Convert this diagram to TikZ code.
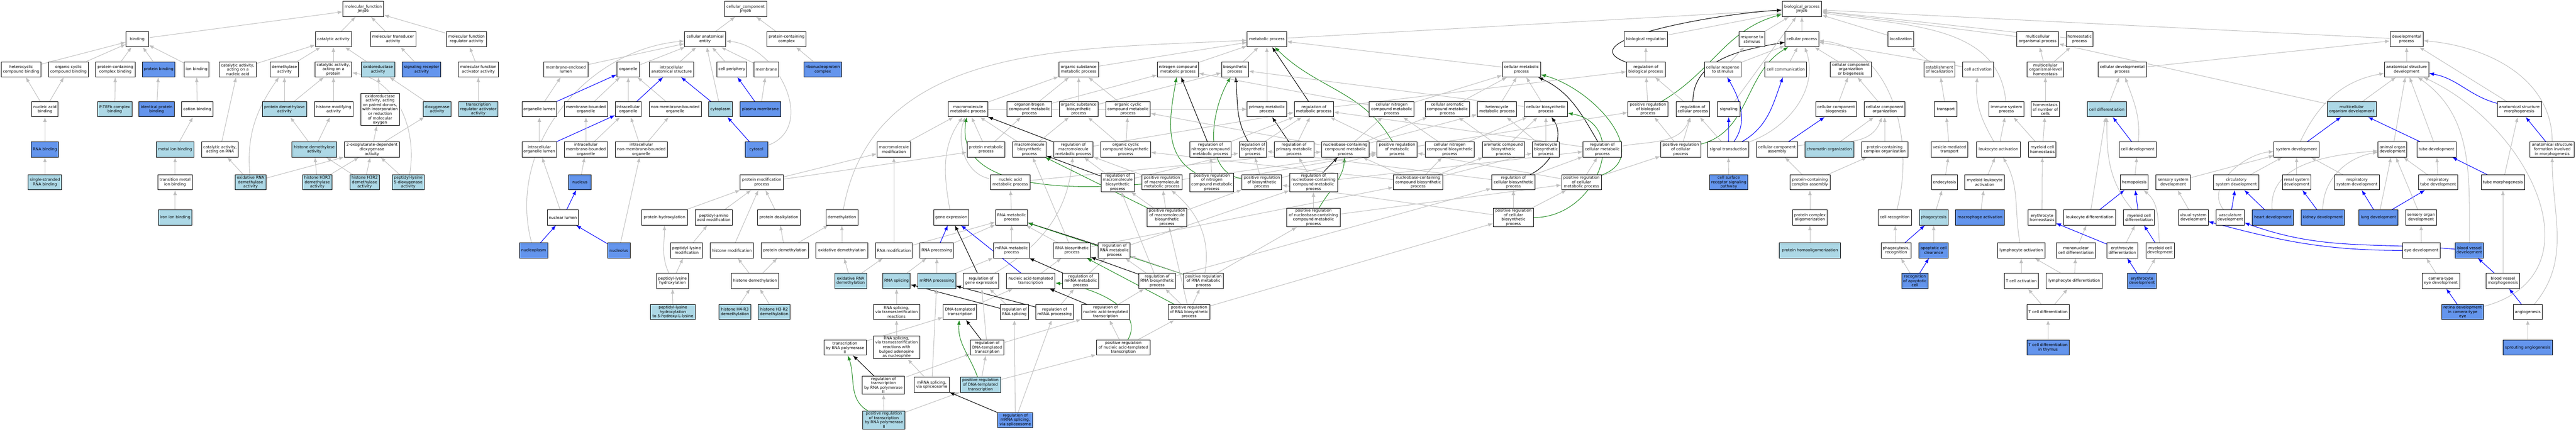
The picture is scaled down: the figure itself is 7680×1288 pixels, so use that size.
\documentclass[tikz,border=0pt]{standalone}
\usepackage{fontspec}
\setmainfont{DejaVu Sans}
\usetikzlibrary{backgrounds}
\definecolor{goL}{HTML}{ADD8E6}
\definecolor{goC}{HTML}{6495ED}
\definecolor{goGray}{HTML}{C0C0C0}
\definecolor{goGreen}{HTML}{228B22}
\tikzset{
  term/.style={draw, line width=0.4pt, fill=white, align=center, inner sep=0.25mm,
    minimum height=4.5mm, font=\fontsize{3.3}{3.75}\selectfont},
  termL/.style={term, fill=goL},
  termC/.style={term, fill=goC},
  isa/.style={-latex, draw=goGray, line width=0.45pt},
  po/.style={-latex, draw=blue, line width=0.45pt},
  pr/.style={-latex, draw=goGreen, line width=0.45pt},
  rg/.style={-latex, draw=black, line width=0.45pt}
}
\begin{document}
\begin{tikzpicture}[x=0.1mm, y=-0.1mm]
  \useasboundingbox (0,0) rectangle (7680,1288);
  % molecular function
  \node[term,minimum width=12.2mm] at (1083,27) (mf) {molecular\_function\\Jmjd6};
  \node[term,minimum width=6.7mm] at (409,117) (bind) {binding};
  \node[term,minimum width=10.7mm] at (994,117) (cat) {catalytic activity};
  \node[term,minimum width=13.5mm] at (1172,117) (mtr) {molecular transducer\\activity};
  \node[term,minimum width=12mm] at (1391,117) (mfreg) {molecular function\\regulator activity};
  \node[term,minimum width=11.8mm] at (63,207) (hcb) {heterocyclic\\compound binding};
  \node[term,minimum width=11.8mm] at (204,207) (ocb) {organic cyclic\\compound binding};
  \node[term,minimum width=11.8mm] at (344,207) (pccb) {protein-containing\\complex binding};
  \node[termC,minimum width=9.8mm] at (473,207) (pb) {protein binding};
  \node[term,minimum width=7.3mm] at (586,207) (ionb) {ion binding};
  \node[term,minimum width=11mm] at (709,207) (catna) {catalytic activity,\\acting on a\\nucleic acid};
  \node[term,minimum width=8.5mm] at (848,207) (dem) {demethylase\\activity};
  \node[term,minimum width=11mm] at (994,207) (catpr) {catalytic activity,\\acting on a\\protein};
  \node[termL,minimum width=10mm] at (1127,207) (oxr) {oxidoreductase\\activity};
  \node[termC,minimum width=11.5mm] at (1257,207) (sra) {signaling receptor\\activity};
  \node[term,minimum width=12mm] at (1426,207) (mfact) {molecular function\\activator activity};
  \node[term,minimum width=7.8mm] at (134,326) (nab) {nucleic acid\\binding};
  \node[termL,minimum width=10.3mm] at (342,326) (ptefb) {P-TEFb complex\\binding};
  \node[termC,minimum width=10.5mm] at (467,326) (idpb) {identical protein\\binding};
  \node[term,minimum width=9.3mm] at (588,326) (catb) {cation binding};
  \node[termL,minimum width=13.2mm] at (848,326) (pdem) {protein demethylase\\activity};
  \node[term,minimum width=11.5mm] at (995,326) (hmod) {histone modifying\\activity};
  \node[term,minimum width=11.5mm] at (1133,327) (oxpd) {oxidoreductase\\activity, acting\\on paired donors,\\with incorporation\\or reduction\\of molecular\\oxygen};
  \node[termL,minimum width=8.4mm] at (1303,326) (diox) {dioxygenase\\activity};
  \node[termL,minimum width=11.8mm] at (1426,326) (tra) {transcription\\regulator activator\\activity};
  \node[termC,minimum width=8.1mm] at (134,446) (rnab) {RNA binding};
  \node[termL,minimum width=11.3mm] at (522,446) (mib) {metal ion binding};
  \node[term,minimum width=11mm] at (656,446) (catrna) {catalytic activity,\\acting on RNA};
  \node[termL,minimum width=13.3mm] at (937,446) (hdem) {histone demethylase\\activity};
  \node[term,minimum width=16.5mm] at (1109,446) (ogdd) {2-oxoglutarate-dependent\\dioxygenase\\activity};
  \node[termL,minimum width=10mm] at (134,544) (ssrna) {single-stranded\\RNA binding};
  \node[term,minimum width=10.3mm] at (522,544) (tmib) {transition metal\\ion binding};
  \node[termL,minimum width=9.3mm] at (747,544) (oxrd) {oxidative RNA\\demethylase\\activity};
  \node[termL,minimum width=8.7mm] at (946,544) (h3r3) {histone H3R3\\demethylase\\activity};
  \node[termL,minimum width=8.7mm] at (1087,544) (h3r2) {histone H3R2\\demethylase\\activity};
  \node[termL,minimum width=9.6mm] at (1217,544) (pl5d) {peptidyl-lysine\\5-dioxygenase\\activity};
  \node[termL,minimum width=10mm] at (522,649) (iib) {iron ion binding};
  % cellular component
  \node[term,minimum width=12.5mm] at (2223,27) (cc) {cellular\_component\\Jmjd6};
  \node[term,minimum width=12.2mm] at (2102,117) (cae) {cellular anatomical\\entity};
  \node[term,minimum width=11.7mm] at (2345,117) (pcc) {protein-containing\\complex};
  \node[term,minimum width=13.1mm] at (1687,207) (mel) {membrane-enclosed\\lumen};
  \node[term,minimum width=6.8mm] at (1873,207) (org) {organelle};
  \node[term,minimum width=13.2mm] at (2002,207) (ias) {intracellular\\anatomical structure};
  \node[term,minimum width=8.8mm] at (2182,207) (cper) {cell periphery};
  \node[term,minimum width=7.3mm] at (2285,207) (mem) {membrane};
  \node[termC,minimum width=11.2mm] at (2453,207) (rnp) {ribonucleoprotein\\complex};
  \node[term,minimum width=10.4mm] at (1608,326) (orgl) {organelle lumen};
  \node[term,minimum width=12.9mm] at (1747,326) (mbo) {membrane-bounded\\organelle};
  \node[term,minimum width=7.8mm] at (1873,326) (io) {intracellular\\organelle};
  \node[term,minimum width=15.5mm] at (2013,326) (nmbo) {non-membrane-bounded\\organelle};
  \node[termL,minimum width=7mm] at (2148,326) (cyto) {cytoplasm};
  \node[termC,minimum width=12mm] at (2267,326) (pm) {plasma membrane};
  \node[term,minimum width=10.4mm] at (1608,446) (iol) {intracellular\\organelle lumen};
  \node[term,minimum width=12.9mm] at (1747,446) (imbo) {intracellular\\membrane-bounded\\organelle};
  \node[term,minimum width=15.6mm] at (1912,446) (inmbo) {intracellular\\non-membrane-bounded\\organelle};
  \node[termC,minimum width=6.8mm] at (2255,446) (cytosol) {cytosol};
  \node[termC,minimum width=6.8mm] at (1729,544) (nuc) {nucleus};
  \node[term,minimum width=9.3mm] at (1678,649) (nlum) {nuclear lumen};
  \node[termC,minimum width=8.4mm] at (1591,747) (npl) {nucleoplasm};
  \node[termC,minimum width=6.8mm] at (1845,747) (nucl) {nucleolus};
  % biological process: protein modification
  \node[term,minimum width=12.8mm] at (2271,544) (pmp) {protein modification\\process};
  \node[term,minimum width=13.7mm] at (1981,649) (phyd) {protein hydroxylation};
  \node[term,minimum width=11mm] at (2128,649) (paam) {peptidyl-amino\\acid modification};
  \node[term,minimum width=12.8mm] at (2322,649) (pdealk) {protein dealkylation};
  \node[term,minimum width=9.5mm] at (2510,649) (demeth) {demethylation};
  \node[term,minimum width=9.6mm] at (2047,747) (plmod) {peptidyl-lysine\\modification};
  \node[term,minimum width=12.9mm] at (2182,747) (hismod) {histone modification};
  \node[term,minimum width=14mm] at (2340,747) (pdemeth) {protein demethylation};
  \node[term,minimum width=15.5mm] at (2510,747) (oxdem) {oxidative demethylation};
  \node[term,minimum width=9.5mm] at (2005,838) (plhyd) {peptidyl-lysine\\hydroxylation};
  \node[term,minimum width=14.2mm] at (2251,838) (hdemeth) {histone demethylation};
  \node[termL,minimum width=9.5mm] at (2536,838) (oxrdem) {oxidative RNA\\demethylation};
  \node[termL,minimum width=13.5mm] at (2006,931) (pl5h) {peptidyl-lysine\\hydroxylation\\to 5-hydroxy-L-lysine};
  \node[termL,minimum width=9.5mm] at (2191,931) (h4r3) {histone H4-R3\\demethylation};
  \node[termL,minimum width=9.5mm] at (2308,931) (h3r2d) {histone H3-R2\\demethylation};
  \node[term,minimum width=12.6mm] at (2519,1037) (tpol2) {transcription\\by RNA polymerase\\II};
  % biological process: macromolecules and RNA
  \node[term,minimum width=11.8mm] at (3216,207) (osmp) {organic substance\\metabolic process};
  \node[term,minimum width=11.7mm] at (2886,326) (mmp) {macromolecule\\metabolic process};
  \node[term,minimum width=13.3mm] at (3069,326) (onmp) {organonitrogen\\compound metabolic\\process};
  \node[term,minimum width=11.6mm] at (3216,326) (osbp) {organic substance\\biosynthetic\\process};
  \node[term,minimum width=10mm] at (2665,446) (mmod) {macromolecule\\modification};
  \node[term,minimum width=11.3mm] at (2940,446) (protmp) {protein metabolic\\process};
  \node[term,minimum width=9.9mm] at (3069,446) (mbp) {macromolecule\\biosynthetic\\process};
  \node[term,minimum width=11.7mm] at (3200,446) (rmmp) {regulation of\\macromolecule\\metabolic process};
  \node[term,minimum width=11.7mm] at (3012,544) (namp) {nucleic acid\\metabolic process};
  \node[term,minimum width=10.5mm] at (2836,649) (gexp) {gene expression};
  \node[term,minimum width=9.5mm] at (3016,649) (rnamp) {RNA metabolic\\process};
  \node[term,minimum width=11mm] at (2665,747) (rnamod) {RNA modification};
  \node[term,minimum width=10mm] at (2793,747) (rnaproc) {RNA processing};
  \node[term,minimum width=10.8mm] at (3016,747) (mrnamp) {mRNA metabolic\\process};
  \node[term,minimum width=11mm] at (3196,747) (rnabp) {RNA biosynthetic\\process};
  \node[termL,minimum width=8.2mm] at (2673,838) (rnasp) {RNA splicing};
  \node[termL,minimum width=11.3mm] at (2793,838) (mrnaproc) {mRNA processing};
  \node[term,minimum width=10.6mm] at (2925,838) (rgexp) {regulation of\\gene expression};
  \node[term,minimum width=14.5mm] at (3073,838) (natt) {nucleic acid-templated\\transcription};
  \node[term,minimum width=10.7mm] at (3222,838) (rmrnamp) {regulation of\\mRNA metabolic\\process};
  \node[term,minimum width=13.8mm] at (2673,931) (rnaspt) {RNA splicing,\\via transesterification\\reactions};
  \node[term,minimum width=10mm] at (2862,931) (dtt) {DNA-templated\\transcription};
  \node[term,minimum width=8.4mm] at (3024,931) (rrnasp) {regulation of\\RNA splicing};
  \node[term,minimum width=11.2mm] at (3144,931) (rmrnaproc) {regulation of\\mRNA processing};
  \node[term,minimum width=13.8mm] at (2673,1036) (rnasptb) {RNA splicing,\\via transesterification\\reactions with\\bulged adenosine\\as nucleophile};
  \node[term,minimum width=10mm] at (2943,1037) (rdtt) {regulation of\\DNA-templated\\transcription};
  \node[term,minimum width=12.6mm] at (2634,1149) (rtpol2) {regulation of\\transcription\\by RNA polymerase\\II};
  \node[term,minimum width=10.4mm] at (2778,1148) (mrnasps) {mRNA splicing,\\via spliceosome};
  \node[termL,minimum width=12mm] at (2923,1148) (prdtt) {positive regulation\\of DNA-templated\\transcription};
  \node[termL,minimum width=12.5mm] at (2635,1253) (prtpol2) {positive regulation\\of transcription\\by RNA polymerase\\II};
  \node[termC,minimum width=10.4mm] at (3027,1253) (rmrnasps) {regulation of\\mRNA splicing,\\via spliceosome};
  % biological process: metabolism
  \node[term,minimum width=11.7mm] at (3777,117) (mp) {metabolic process};
  \node[term,minimum width=12.2mm] at (3512,207) (ncmp) {nitrogen compound\\metabolic process};
  \node[term,minimum width=8mm] at (3682,207) (bsp) {biosynthetic\\process};
  \node[term,minimum width=13.3mm] at (3363,326) (occmp) {organic cyclic\\compound metabolic\\process};
  \node[term,minimum width=11.7mm] at (3777,326) (pmproc) {primary metabolic\\process};
  \node[term,minimum width=14.8mm] at (3356,446) (occbp) {organic cyclic\\compound biosynthetic\\process};
  \node[term,minimum width=12.2mm] at (3609,446) (rncmp) {regulation of\\nitrogen compound\\metabolic process};
  \node[term,minimum width=8.2mm] at (3735,446) (rbsp) {regulation of\\biosynthetic\\process};
  \node[term,minimum width=11.8mm] at (3858,446) (rpmp) {regulation of\\primary metabolic\\process};
  \node[term,minimum width=9.9mm] at (3332,544) (rmbp) {regulation of\\macromolecule\\biosynthetic\\process};
  \node[term,minimum width=11.9mm] at (3464,544) (prmmp) {positive regulation\\of macromolecule\\metabolic process};
  \node[term,minimum width=13.1mm] at (3613,544) (prncmp) {positive regulation\\of nitrogen\\compound metabolic\\process};
  \node[term,minimum width=11.8mm] at (3762,544) (prbsp) {positive regulation\\of biosynthetic\\process};
  \node[term,minimum width=14.3mm] at (3916,544) (rnbccmp) {regulation of\\nucleobase-containing\\compound metabolic\\process};
  \node[term,minimum width=14.7mm] at (4228,544) (nbccbp) {nucleobase-containing\\compound biosynthetic\\process};
  \node[term,minimum width=13mm] at (4512,544) (rcbp) {regulation of\\cellular biosynthetic\\process};
  \node[term,minimum width=11.9mm] at (4715,544) (prcmp) {positive regulation\\of cellular\\metabolic process};
  \node[term,minimum width=11.9mm] at (3479,649) (prmbp) {positive regulation\\of macromolecule\\biosynthetic\\process};
  \node[term,minimum width=16mm] at (3916,649) (prnbccmp) {positive regulation\\of nucleobase-containing\\compound metabolic\\process};
  \node[term,minimum width=12mm] at (4512,649) (prcbp) {positive regulation\\of cellular\\biosynthetic\\process};
  \node[term,minimum width=9.5mm] at (3322,747) (rrnamp) {regulation of\\RNA metabolic\\process};
  \node[term,minimum width=11mm] at (3450,838) (rrnabp) {regulation of\\RNA biosynthetic\\process};
  \node[term,minimum width=11.9mm] at (3588,838) (prrnamp) {positive regulation\\of RNA metabolic\\process};
  \node[term,minimum width=14.4mm] at (3296,931) (rnatt) {regulation of\\nucleic acid-templated\\transcription};
  \node[term,minimum width=12.5mm] at (3545,931) (prrnabp) {positive regulation\\of RNA biosynthetic\\process};
  \node[term,minimum width=16mm] at (3349,1037) (prnatt) {positive regulation\\of nucleic acid-templated\\transcription};
  \node[term,minimum width=11.4mm] at (4536,207) (cmp) {cellular metabolic\\process};
  \node[term,minimum width=11.7mm] at (3917,326) (rmp) {regulation of\\metabolic process};
  \node[term,minimum width=13.3mm] at (4149,326) (cncmp) {cellular nitrogen\\compound metabolic\\process};
  \node[term,minimum width=13.3mm] at (4315,326) (cacmp) {cellular aromatic\\compound metabolic\\process};
  \node[term,minimum width=11.7mm] at (4463,326) (hmp) {heterocycle\\metabolic process};
  \node[term,minimum width=12.9mm] at (4609,326) (cbp) {cellular biosynthetic\\process};
  \node[term,minimum width=14.2mm] at (4011,446) (nbccmp) {nucleobase-containing\\compound metabolic\\process};
  \node[term,minimum width=12mm] at (4165,446) (prmp) {positive regulation\\of metabolic\\process};
  \node[term,minimum width=14.7mm] at (4322,446) (cncbp) {cellular nitrogen\\compound biosynthetic\\process};
  \node[term,minimum width=12.6mm] at (4482,446) (acbp) {aromatic compound\\biosynthetic\\process};
  \node[term,minimum width=8mm] at (4609,446) (hbp) {heterocycle\\biosynthetic\\process};
  \node[term,minimum width=11.5mm] at (4777,446) (rcmp) {regulation of\\cellular metabolic\\process};
  % biological process: regulation, signaling, organization
  \node[term,minimum width=12.9mm] at (4907,117) (breg) {biological regulation};
  \node[term,minimum width=11.5mm] at (4907,207) (rbp) {regulation of\\biological process};
  \node[term,minimum width=11mm] at (5136,207) (crs) {cellular response\\to stimulus};
  \node[term,minimum width=11.9mm] at (4913,326) (prbp) {positive regulation\\of biological\\process};
  \node[term,minimum width=10mm] at (5047,326) (rcp) {regulation of\\cellular process};
  \node[term,minimum width=6.7mm] at (5154,326) (sig) {signaling};
  \node[term,minimum width=12mm] at (5011,446) (prcp) {positive regulation\\of cellular\\process};
  \node[term,minimum width=12.3mm] at (5153,446) (st) {signal transduction};
  \node[termC,minimum width=11.5mm] at (5154,544) (csrsp) {cell surface\\receptor signaling\\pathway};
  \node[term,minimum width=11.8mm] at (5372,27) (bp) {biological\_process\\Jmjd6};
  \node[term,minimum width=7.7mm] at (5223,117) (rts) {response to\\stimulus};
  \node[term,minimum width=10mm] at (5372,117) (cp) {cellular process};
  \node[term,minimum width=7.6mm] at (5667,117) (loc) {localization};
  \node[term,minimum width=12.5mm] at (5324,207) (ccomm) {cell communication};
  \node[term,minimum width=12.2mm] at (5518,207) (ccob) {cellular component\\organization\\or biogenesis};
  \node[term,minimum width=9.3mm] at (5782,207) (eloc) {establishment\\of localization};
  \node[term,minimum width=12.2mm] at (5474,326) (ccb) {cellular component\\biogenesis};
  \node[term,minimum width=12.1mm] at (5619,326) (cco) {cellular component\\organization};
  \node[term,minimum width=12.2mm] at (5298,446) (cca) {cellular component\\assembly};
  \node[termL,minimum width=14.7mm] at (5454,446) (chro) {chromatin organization};
  \node[term,minimum width=13.8mm] at (5619,446) (pcco) {protein-containing\\complex organization};
  \node[term,minimum width=10.9mm] at (5812,446) (vmt) {vesicle-mediated\\transport};
  \node[term,minimum width=12mm] at (5396,544) (pcca) {protein-containing\\complex assembly};
  \node[term,minimum width=7.7mm] at (5797,544) (endo) {endocytosis};
  \node[term,minimum width=10.4mm] at (5396,649) (pco) {protein complex\\oligomerization};
  \node[term,minimum width=9.9mm] at (5649,649) (crec) {cell recognition};
  \node[termL,minimum width=8.6mm] at (5765,649) (phago) {phagocytosis};
  \node[termL,minimum width=18.2mm] at (5396,747) (pho) {protein homooligomerization};
  \node[term,minimum width=8.9mm] at (5653,747) (phrec) {phagocytosis,\\recognition};
  \node[termC,minimum width=8.8mm] at (5765,747) (acc) {apoptotic cell\\clearance};
  \node[termC,minimum width=7.8mm] at (5709,838) (rac) {recognition\\of apoptotic\\cell};
  % biological process: immune system and development
  \node[term,minimum width=12.4mm] at (6075,117) (mop) {multicellular\\organismal process};
  \node[term,minimum width=8mm] at (6200,117) (hp) {homeostatic\\process};
  \node[term,minimum width=9.2mm] at (5897,207) (cact) {cell activation};
  \node[term,minimum width=10.8mm] at (6098,207) (molh) {multicellular\\organismal-level\\homeostasis};
  \node[term,minimum width=14.4mm] at (6327,207) (cdevp) {cellular developmental\\process};
  \node[term,minimum width=6.7mm] at (5801,326) (trans) {transport};
  \node[term,minimum width=10.4mm] at (5982,326) (isp) {immune system\\process};
  \node[term,minimum width=8.4mm] at (6098,326) (hnc) {homeostasis\\of number of\\cells};
  \node[termL,minimum width=11.7mm] at (6281,326) (cdiff) {cell differentiation};
  \node[term,minimum width=13mm] at (5958,446) (lact) {leukocyte activation};
  \node[term,minimum width=8.2mm] at (6089,446) (mch) {myeloid cell\\homeostasis};
  \node[term,minimum width=11.1mm] at (6373,446) (cdev) {cell development};
  \node[term,minimum width=11.8mm] at (5917,544) (mlact) {myeloid leukocyte\\activation};
  \node[term,minimum width=8.2mm] at (6363,544) (hemo) {hemopoiesis};
  \node[termC,minimum width=14.5mm] at (5903,649) (macact) {macrophage activation};
  \node[term,minimum width=8.2mm] at (6088,649) (eh) {erythrocyte\\homeostasis};
  \node[term,minimum width=15.5mm] at (6230,649) (ldiff) {leukocyte differentiation};
  \node[term,minimum width=9.2mm] at (6377,649) (mcdiff) {myeloid cell\\differentiation};
  \node[term,minimum width=14.2mm] at (6026,747) (lyact) {lymphocyte activation};
  \node[term,minimum width=11.7mm] at (6189,747) (mncd) {mononuclear\\cell differentiation};
  \node[term,minimum width=9.2mm] at (6327,747) (ediff) {erythrocyte\\differentiation};
  \node[term,minimum width=8.5mm] at (6440,747) (mcdev) {myeloid cell\\development};
  \node[term,minimum width=10.2mm] at (6026,838) (tact) {T cell activation};
  \node[term,minimum width=16.7mm] at (6184,838) (lydiff) {lymphocyte differentiation};
  \node[termC,minimum width=8.6mm] at (6386,838) (edev) {erythrocyte\\development};
  \node[term,minimum width=12.7mm] at (6106,931) (tdiff) {T cell differentiation};
  \node[termC,minimum width=12.7mm] at (6106,1037) (tthy) {T cell differentiation\\in thymus};
  \node[termL,minimum width=14.6mm] at (7011,326) (mod) {multicellular\\organism development};
  \node[term,minimum width=13.5mm] at (6847,446) (sysdev) {system development};
  \node[term,minimum width=10.2mm] at (6479,544) (ssd) {sensory system\\development};
  \node[term,minimum width=13.4mm] at (6667,544) (csd) {circulatory\\system development};
  \node[term,minimum width=8.5mm] at (6847,544) (rsd) {renal system\\development};
  \node[term,minimum width=13.4mm] at (7027,544) (respsd) {respiratory\\system development};
  \node[term,minimum width=8.9mm] at (6539,649) (vsd) {visual system\\development};
  \node[term,minimum width=8.4mm] at (6649,649) (vasd) {vasculature\\development};
  \node[termC,minimum width=12.2mm] at (6776,649) (heart) {heart development};
  \node[termC,minimum width=13mm] at (6925,649) (kidney) {kidney development};
  \node[termC,minimum width=11.6mm] at (7091,649) (lung) {lung development};
  \node[term,minimum width=9.8mm] at (7175,117) (devp) {developmental\\process};
  \node[term,minimum width=13.2mm] at (7175,207) (asd) {anatomical structure\\development};
  \node[term,minimum width=13.2mm] at (7511,326) (asm) {anatomical structure\\morphogenesis};
  \node[term,minimum width=8.6mm] at (7133,446) (aod) {animal organ\\development};
  \node[term,minimum width=11.7mm] at (7264,446) (tdev) {tube development};
  \node[term,minimum width=13.2mm] at (7609,446) (asf) {anatomical structure\\formation involved\\in morphogenesis};
  \node[term,minimum width=11.7mm] at (7269,544) (rtd) {respiratory\\tube development};
  \node[term,minimum width=12.9mm] at (7462,544) (tmorph) {tube morphogenesis};
  \node[term,minimum width=9.2mm] at (7218,649) (sod) {sensory organ\\development};
  \node[term,minimum width=11.2mm] at (7219,747) (eyed) {eye development};
  \node[termC,minimum width=8.5mm] at (7362,747) (bvd) {blood vessel\\development};
  \node[term,minimum width=11.2mm] at (7277,838) (cted) {camera-type\\eye development};
  \node[term,minimum width=10mm] at (7462,838) (bvm) {blood vessel\\morphogenesis};
  \node[termC,minimum width=12.5mm] at (7342,931) (retina) {retina development\\in camera-type\\eye};
  \node[term,minimum width=8.6mm] at (7536,931) (angio) {angiogenesis};
  \node[termC,minimum width=14.7mm] at (7536,1037) (sprout) {sprouting angiogenesis};
  \begin{scope}[on background layer]
    % molecular function edges
    \draw[isa] (bind) -- (mf); \draw[isa] (cat) -- (mf);
    \draw[isa] (mtr) -- (mf); \draw[isa] (mfreg) -- (mf);
    \draw[isa] (hcb) -- (bind); \draw[isa] (ocb) -- (bind);
    \draw[isa] (pccb) -- (bind); \draw[isa] (pb) -- (bind);
    \draw[isa] (ionb) -- (bind);
    \draw[isa] (nab) -- (hcb); \draw[isa] (nab) -- (ocb);
    \draw[isa] (rnab) -- (nab); \draw[isa] (ssrna) -- (rnab);
    \draw[isa] (ptefb) -- (pccb); \draw[isa] (idpb) -- (pb);
    \draw[isa] (catb) -- (ionb); \draw[isa] (mib) -- (catb);
    \draw[isa] (tmib) -- (mib); \draw[isa] (iib) -- (tmib);
    \draw[isa] (catna) -- (cat); \draw[isa] (dem) -- (cat);
    \draw[isa] (catpr) -- (cat); \draw[isa] (oxr) -- (cat);
    \draw[isa] (sra) -- (mtr); \draw[isa] (mfact) -- (mfreg);
    \draw[isa] (catrna) -- (catna); \draw[isa] (pdem) -- (dem);
    \draw[isa] (pdem) -- (catpr); \draw[isa] (hmod) -- (catpr);
    \draw[isa] (oxpd) -- (oxr); \draw[isa] (diox) -- (oxr);
    \draw[isa] (tra) -- (mfact);
    \draw[isa] (hdem) -- (pdem); \draw[isa] (hdem) -- (hmod);
    \draw[isa] (ogdd) -- (oxpd); \draw[isa] (ogdd) -- (diox);
    \draw[isa] (oxrd) -- (catrna); \draw[isa] (oxrd) -- (ogdd);
    \draw[isa] (oxrd) to[out=95,in=235] (dem);
    \draw[isa] (h3r3) -- (hdem); \draw[isa] (h3r3) -- (ogdd);
    \draw[isa] (h3r2) -- (hdem); \draw[isa] (h3r2) -- (ogdd);
    \draw[isa] (pl5d) -- (ogdd);
    \draw[isa] (pl5d) to[out=80,in=-10] (catpr);
    % cellular component edges
    \draw[isa] (cae) -- (cc); \draw[isa] (pcc) -- (cc);
    \draw[isa] (rnp) -- (pcc);
    \draw[isa] (mel) -- (cae); \draw[isa] (org) -- (cae);
    \draw[isa] (ias) -- (cae); \draw[isa] (cper) -- (cae);
    \draw[isa] (mem) -- (cae); \draw[isa] (cyto) -- (cae);
    \draw[isa] (cytosol) to[out=20,in=-5,looseness=1.2] (cae);
    \draw[isa] (npl) to[out=105,in=185] (cae);
    \draw[isa] (orgl) -- (mel); \draw[po] (orgl) -- (org);
    \draw[isa] (mbo) -- (org); \draw[isa] (io) -- (org);
    \draw[isa] (nmbo) -- (org);
    \draw[po] (io) -- (ias); \draw[po] (cyto) -- (ias);
    \draw[po] (pm) -- (cper); \draw[isa] (pm) -- (mem);
    \draw[po] (cytosol) -- (cyto);
    \draw[isa] (iol) -- (orgl); \draw[po] (iol) -- (io);
    \draw[isa] (imbo) -- (mbo); \draw[isa] (imbo) -- (io);
    \draw[isa] (inmbo) -- (io); \draw[isa] (inmbo) -- (nmbo);
    \draw[isa] (nuc) -- (imbo);
    \draw[isa] (nlum) -- (iol); \draw[po] (nlum) -- (nuc);
    \draw[po] (npl) -- (nlum); \draw[po] (nucl) -- (nlum);
    \draw[isa] (nucl) -- (inmbo);
    % protein modification edges
    \draw[isa] (phyd) -- (pmp); \draw[isa] (paam) -- (pmp);
    \draw[isa] (hismod) -- (pmp); \draw[isa] (pdealk) -- (pmp);
    \draw[isa] (pmp) -- (protmp); \draw[isa] (pmp) -- (mmod);
    \draw[isa] (demeth) to[out=80,in=183] (mp);
    \draw[isa] (plmod) -- (paam);
    \draw[isa] (pdemeth) -- (pdealk); \draw[isa] (pdemeth) -- (demeth);
    \draw[isa] (oxdem) -- (demeth);
    \draw[isa] (plhyd) -- (plmod); \draw[isa] (plhyd) to[out=115,in=-90] (phyd);
    \draw[isa] (hdemeth) -- (hismod); \draw[isa] (hdemeth) -- (pdemeth);
    \draw[isa] (oxrdem) -- (oxdem); \draw[isa] (oxrdem) -- (rnamod);
    \draw[isa] (pl5h) -- (plhyd);
    \draw[isa] (h4r3) -- (hdemeth); \draw[isa] (h3r2d) -- (hdemeth);
    \draw[isa] (tpol2) -- (dtt);
    % macromolecule and RNA edges
    \draw[isa] (osmp) -- (mp);
    \draw[isa] (mmp) -- (osmp); \draw[isa] (mmp) -- (pmproc);
    \draw[isa] (onmp) -- (osmp); \draw[isa] (onmp) -- (ncmp);
    \draw[isa] (onmp) -- (pmproc);
    \draw[isa] (osbp) -- (osmp); \draw[isa] (osbp) -- (bsp);
    \draw[isa] (occmp) -- (osmp);
    \draw[isa] (occbp) -- (occmp); \draw[isa] (occbp) -- (osbp);
    \draw[isa] (mmod) -- (mmp);
    \draw[isa] (protmp) -- (mmp); \draw[isa] (protmp) -- (onmp);
    \draw[isa] (mbp) -- (mmp); \draw[isa] (mbp) -- (osbp);
    \draw[rg] (rmmp) -- (mmp); \draw[isa] (rmmp) -- (rmp);
    \draw[isa] (namp) to[out=170,in=-110] (mmp);
    \draw[isa] (namp) -- (nbccmp);
    \draw[isa] (gexp) to[out=100,in=-125] (mmp);
    \draw[pr] (prmmp) to[out=185,in=-100] (mmp);
    \draw[isa] (prmmp) -- (rmmp); \draw[isa] (prmmp) -- (prmp);
    \draw[isa] (rnamp) -- (namp); \draw[isa] (mrnamp) -- (rnamp);
    \draw[isa] (rnabp) -- (rnamp); \draw[isa] (rnabp) -- (mbp);
    \draw[isa] (rnabp) -- (nbccbp);
    \draw[isa] (rnamod) -- (rnamp); \draw[isa] (rnamod) -- (mmod);
    \draw[isa] (rnaproc) -- (rnamp); \draw[po] (rnaproc) -- (gexp);
    \draw[isa] (rnasp) -- (rnaproc);
    \draw[isa] (mrnaproc) -- (rnaproc); \draw[isa] (mrnaproc) -- (mrnamp);
    \draw[rg] (rgexp) -- (gexp); \draw[isa] (rgexp) to[out=30,in=-95] (rmmp);
    \draw[po] (natt) -- (gexp); \draw[isa] (natt) -- (rnabp);
    \draw[rg] (rmrnamp) -- (mrnamp); \draw[isa] (rmrnamp) -- (rrnamp);
    \draw[isa] (rnaspt) -- (rnasp); \draw[isa] (dtt) -- (natt);
    \draw[rg] (rrnasp) -- (rnasp); \draw[isa] (rrnasp) -- (rgexp);
    \draw[rg] (rmrnaproc) -- (mrnaproc); \draw[isa] (rmrnaproc) -- (rmrnamp);
    \draw[isa] (rnasptb) -- (rnaspt);
    \draw[rg] (rdtt) -- (dtt); \draw[isa] (rdtt) -- (rgexp);
    \draw[isa] (rdtt) -- (rnatt);
    \draw[rg] (rtpol2) -- (tpol2); \draw[isa] (rtpol2) -- (rdtt);
    \draw[isa] (mrnasps) -- (rnasptb); \draw[isa] (mrnasps) -- (mrnaproc);
    \draw[pr] (prdtt) to[out=110,in=-95] (dtt);
    \draw[isa] (prdtt) -- (rdtt); \draw[isa] (prdtt) -- (prnatt);
    \draw[isa] (prtpol2) -- (rtpol2);
    \draw[pr] (prtpol2) to[out=150,in=-70] (tpol2);
    \draw[isa] (prtpol2) -- (prdtt);
    \draw[rg] (rmrnasps) -- (mrnasps); \draw[isa] (rmrnasps) -- (rrnasp);
    \draw[isa] (rmrnasps) -- (rmrnaproc);
    % metabolism edges
    \draw[isa] (mp) -- (bp);
    \draw[isa] (pmproc) -- (mp); \draw[isa] (bsp) -- (mp);
    \draw[isa] (ncmp) -- (mp); \draw[isa] (cmp) -- (mp);
    \draw[rg] (rmp) -- (mp); \draw[pr] (prmp) to[out=120,in=-45] (mp);
    \draw[rg] (rpmp) -- (pmproc); \draw[isa] (rpmp) -- (rmp);
    \draw[rg] (rncmp) -- (ncmp); \draw[isa] (rncmp) -- (rmp);
    \draw[rg] (rbsp) to[out=120,in=-85] (bsp); \draw[isa] (rbsp) -- (rmp);
    \draw[pr] (prncmp) to[out=150,in=-100] (ncmp);
    \draw[isa] (prncmp) -- (rncmp); \draw[isa] (prncmp) -- (prmp);
    \draw[pr] (prbsp) to[out=170,in=-120] (bsp);
    \draw[isa] (prbsp) -- (rbsp); \draw[isa] (prbsp) -- (prmp);
    \draw[rg] (rmbp) -- (mbp); \draw[isa] (rmbp) -- (rbsp);
    \draw[isa] (rmbp) -- (rmmp);
    \draw[pr] (prmbp) -- (mbp); \draw[isa] (prmbp) -- (prmmp);
    \draw[isa] (prmbp) -- (rmbp); \draw[isa] (prmbp) -- (prbsp);
    \draw[rg] (rnbccmp) -- (nbccmp); \draw[isa] (rnbccmp) -- (rpmp);
    \draw[isa] (rnbccmp) -- (rcmp);
    \draw[pr] (prnbccmp) to[out=60,in=-95] (nbccmp);
    \draw[isa] (prnbccmp) -- (rnbccmp); \draw[isa] (prnbccmp) -- (prcmp);
    \draw[rg] (rrnamp) -- (rnamp); \draw[isa] (rrnamp) -- (rnbccmp);
    \draw[rg] (rrnabp) -- (rnabp); \draw[isa] (rrnabp) -- (rrnamp);
    \draw[isa] (rrnabp) -- (rmbp); \draw[isa] (rrnabp) -- (rcbp);
    \draw[pr] (prrnamp) -- (rnamp); \draw[isa] (prrnamp) -- (rrnamp);
    \draw[isa] (prrnamp) -- (prnbccmp); \draw[isa] (prrnamp) to[out=80,in=-40] (prmmp);
    \draw[pr] (prrnabp) -- (rnabp); \draw[isa] (prrnabp) -- (rrnabp);
    \draw[isa] (prrnabp) -- (prrnamp); \draw[isa] (prrnabp) -- (prmbp);
    \draw[isa] (prrnabp) -- (prcbp);
    \draw[rg] (rnatt) -- (natt); \draw[isa] (rnatt) -- (rrnabp);
    \draw[pr] (prnatt) to[out=60,in=-5] (natt);
    \draw[isa] (prnatt) -- (rnatt); \draw[isa] (prnatt) -- (prrnabp);
    \draw[isa] (nbccmp) -- (occmp); \draw[isa] (nbccmp) -- (cncmp);
    \draw[isa] (nbccmp) -- (cacmp); \draw[isa] (nbccmp) -- (hmp);
    \draw[isa] (nbccbp) -- (nbccmp); \draw[isa] (nbccbp) -- (cncbp);
    \draw[isa] (nbccbp) -- (acbp); \draw[isa] (nbccbp) -- (hbp);
    \draw[isa] (nbccbp) -- (occbp);
    \draw[isa] (cncmp) -- (ncmp); \draw[isa] (cncmp) -- (cmp);
    \draw[isa] (cacmp) -- (cmp); \draw[isa] (hmp) -- (cmp);
    \draw[isa] (cbp) -- (cmp); \draw[isa] (cbp) -- (bsp);
    \draw[isa] (cncbp) -- (cncmp); \draw[isa] (cncbp) -- (cbp);
    \draw[isa] (acbp) -- (cacmp); \draw[isa] (acbp) -- (cbp);
    \draw[isa] (hbp) -- (hmp); \draw[isa] (hbp) -- (cbp);
    \draw[rg] (rcmp) to[out=120,in=-25] (cmp); \draw[isa] (rcmp) -- (rmp);
    \draw[isa] (rcmp) to[out=10,in=-110] (rcp);
    \draw[rg] (rcbp) to[out=25,in=-55] (cbp); \draw[isa] (rcbp) -- (rbsp);
    \draw[isa] (rcbp) -- (rcmp);
    \draw[pr] (prcmp) to[out=20,in=-15,looseness=1.2] (cmp);
    \draw[isa] (prcmp) -- (rcmp); \draw[isa] (prcmp) -- (prmp);
    \draw[isa] (prcmp) -- (prcp);
    \draw[pr] (prcbp) to[out=0,in=-10,looseness=1.5] (cbp);
    \draw[isa] (prcbp) -- (rcbp); \draw[isa] (prcbp) -- (prcmp);
    \draw[isa] (prcbp) -- (prbsp);
    \draw[isa] (rmp) -- (rbp); \draw[isa] (prmp) -- (rmp);
    \draw[isa] (prmp) -- (prbp);
    % regulation and cellular process edges
    \draw[isa] (breg) -- (bp); \draw[isa] (rbp) -- (breg);
    \draw[rg] (rbp) to[out=160,in=183] (bp);
    \draw[isa] (prbp) -- (rbp); \draw[pr] (prbp) to[out=30,in=195] (bp);
    \draw[isa] (rcp) -- (rbp); \draw[rg] (rcp) to[out=90,in=190] (cp);
    \draw[isa] (prcp) -- (rcp); \draw[isa] (prcp) -- (prbp);
    \draw[pr] (prcp) to[out=15,in=210] (cp);
    \draw[isa] (rts) -- (bp); \draw[isa] (cp) -- (bp);
    \draw[isa] (loc) -- (bp);
    \draw[isa] (crs) -- (rts); \draw[isa] (crs) -- (cp);
    \draw[isa] (ccomm) -- (cp); \draw[isa] (ccob) -- (cp);
    \draw[isa] (eloc) -- (loc); \draw[isa] (sig) -- (bp);
    \draw[po] (st) -- (sig); \draw[po] (st) to[out=55,in=-60] (crs);
    \draw[po] (st) to[out=30,in=-110] (ccomm); \draw[isa] (st) -- (rcp);
    \draw[isa] (st) to[out=20,in=-70] (cp);
    \draw[isa] (csrsp) -- (st);
    \draw[isa] (ccb) -- (ccob); \draw[isa] (cco) -- (ccob);
    \draw[po] (cca) -- (ccb); \draw[isa] (cca) to[out=10,in=-110] (cco);
    \draw[isa] (chro) -- (cco); \draw[isa] (pcco) -- (cco);
    \draw[isa] (pcca) -- (cca); \draw[isa] (pcca) -- (pcco);
    \draw[isa] (pco) -- (pcca); \draw[isa] (pho) -- (pco);
    \draw[isa] (crec) to[out=75,in=-5] (cp);
    \draw[isa] (phrec) -- (crec); \draw[po] (phrec) -- (phago);
    \draw[isa] (rac) -- (phrec); \draw[po] (rac) -- (acc);
    \draw[isa] (acc) -- (phago); \draw[isa] (phago) -- (endo);
    \draw[isa] (endo) -- (vmt); \draw[isa] (vmt) -- (trans);
    \draw[isa] (trans) -- (eloc);
    % immune system and development edges
    \draw[isa] (mop) -- (bp); \draw[isa] (hp) -- (bp);
    \draw[isa] (devp) -- (bp); \draw[isa] (isp) to[out=95,in=-10] (bp);
    \draw[isa] (cact) -- (cp);
    \draw[isa] (molh) -- (mop); \draw[isa] (molh) -- (hp);
    \draw[isa] (hnc) -- (molh);
    \draw[isa] (mch) -- (hnc); \draw[isa] (mch) -- (isp);
    \draw[isa] (eh) -- (mch);
    \draw[isa] (lact) to[out=120,in=-95] (cact); \draw[isa] (lact) -- (isp);
    \draw[isa] (mlact) -- (lact); \draw[isa] (macact) -- (mlact);
    \draw[isa] (lyact) to[out=100,in=-60] (lact);
    \draw[isa] (tact) -- (lyact);
    \draw[isa] (tdiff) -- (tact); \draw[isa] (tdiff) -- (lydiff);
    \draw[isa] (tthy) -- (tdiff);
    \draw[isa] (lydiff) -- (lyact); \draw[isa] (lydiff) -- (mncd);
    \draw[isa] (mncd) -- (ldiff);
    \draw[isa] (ldiff) -- (cdiff); \draw[po] (ldiff) -- (hemo);
    \draw[po] (mcdiff) -- (hemo); \draw[isa] (mcdiff) to[out=130,in=-90] (cdiff);
    \draw[isa] (ediff) -- (mcdiff); \draw[po] (ediff) -- (eh);
    \draw[po] (mcdev) -- (mcdiff); \draw[isa] (mcdev) to[out=95,in=-40] (hemo);
    \draw[po] (edev) -- (ediff); \draw[isa] (edev) -- (mcdev);
    \draw[isa] (hemo) -- (cdev);
    \draw[isa] (cdiff) -- (cdevp); \draw[po] (cdev) -- (cdiff);
    \draw[isa] (cdev) to[out=85,in=-70] (cdevp);
    \draw[isa] (cdevp) -- (devp);
    \draw[isa] (mod) -- (asd); \draw[isa] (mod) -- (mop);
    \draw[po] (sysdev) -- (mod); \draw[isa] (sysdev) to[out=65,in=190] (asd);
    \draw[isa] (ssd) -- (sysdev); \draw[isa] (csd) -- (sysdev);
    \draw[isa] (rsd) -- (sysdev); \draw[isa] (respsd) -- (sysdev);
    \draw[isa] (vsd) -- (ssd);
    \draw[po] (vasd) -- (csd); \draw[isa] (vasd) to[out=130,in=185] (sysdev);
    \draw[po] (heart) -- (csd); \draw[isa] (heart) to[out=95,in=185] (aod);
    \draw[po] (kidney) -- (rsd); \draw[isa] (kidney) to[out=90,in=190] (aod);
    \draw[po] (lung) -- (respsd); \draw[isa] (lung) -- (aod);
    \draw[po] (lung) -- (rtd);
    \draw[isa] (aod) -- (asd); \draw[isa] (tdev) -- (asd);
    \draw[po] (tdev) -- (mod);
    \draw[isa] (rtd) -- (tdev); \draw[isa] (rtd) -- (aod);
    \draw[isa] (sod) -- (aod);
    \draw[isa] (eyed) -- (sod); \draw[po] (eyed) to[out=180,in=-15] (vsd);
    \draw[po] (bvd) to[out=175,in=-20] (vasd);
    \draw[isa] (bvd) to[out=90,in=-35] (asd);
    \draw[po] (tmorph) -- (tdev); \draw[isa] (tmorph) -- (asm);
    \draw[po] (asm) to[out=165,in=-10] (asd); \draw[isa] (asm) -- (devp);
    \draw[po] (asf) -- (asm); \draw[isa] (asf) to[out=90,in=-5] (devp);
    \draw[isa] (cted) -- (eyed);
    \draw[po] (bvm) -- (bvd); \draw[isa] (bvm) -- (tmorph);
    \draw[po] (retina) -- (cted);
    \draw[isa] (retina) to[out=15,in=-25,looseness=1.3] (asd);
    \draw[po] (angio) -- (bvm); \draw[isa] (angio) to[out=50,in=-90] (asf);
    \draw[isa] (sprout) -- (angio);
    \draw[isa] (asd) -- (devp);
  \end{scope}
\end{tikzpicture}
\end{document}
